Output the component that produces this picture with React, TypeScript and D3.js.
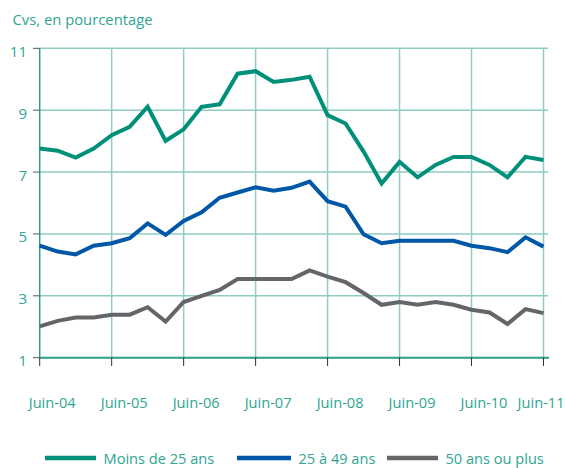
import React from "react";
import * as d3 from "d3";

const xLabels = ["Juin-04", "Juin-05", "Juin-06", "Juin-07", "Juin-08", "Juin-09", "Juin-10", "Juin-11"];
const yTicks = [1, 3, 5, 7, 9, 11];

const moins25 = [7.76, 7.69, 7.47, 7.76, 8.19, 8.46, 9.11, 8.01, 8.38, 9.11, 9.19, 10.18, 10.26, 9.91, 9.98, 10.08, 8.84, 8.57, 7.66, 6.63, 7.33, 6.83, 7.23, 7.49, 7.49, 7.23, 6.83, 7.49, 7.39];
const de25a49 = [4.62, 4.43, 4.34, 4.62, 4.7, 4.86, 5.34, 4.97, 5.42, 5.7, 6.17, 6.34, 6.51, 6.4, 6.49, 6.69, 6.06, 5.88, 4.99, 4.7, 4.78, 4.78, 4.78, 4.78, 4.62, 4.54, 4.41, 4.89, 4.59];
const plus50 = [2.01, 2.19, 2.3, 2.3, 2.39, 2.39, 2.63, 2.17, 2.8, 3.0, 3.19, 3.54, 3.54, 3.54, 3.54, 3.82, 3.62, 3.44, 3.09, 2.71, 2.8, 2.71, 2.8, 2.71, 2.55, 2.46, 2.09, 2.57, 2.44];

const seriesNames = ["Moins de 25 ans", "25 à 49 ans", "50 ans ou plus"];
const seriesColors = ["#00907a", "#0057a8", "#646569"];

const W = 565;
const H = 468;
const FONT = "'Open Sans', 'DejaVu Sans', sans-serif";
const TEXT = "#2fa592";
const GRID = "#8fcdc3";
const AXIS = "#2a9d8c";

export default function App() {
  const x = d3.scaleLinear().domain([0, 28]).range([39.7, 543.5]);
  const y = d3.scaleLinear().domain([1, 11]).range([357.7, 48.3]);
  const line = d3
    .line<number>()
    .x((_, i) => x(i))
    .y((d) => y(d));
  const all = [moins25, de25a49, plus50];
  const legendX = [45, 237, 387];
  const legendW = [51, 54, 51];

  return (
    <svg width={W} height={H} style={{ position: "absolute", left: 0, top: 0 }}>
      <rect width={W} height={H} fill="#fff" />
      <text x={12.5} y={25} fontFamily={FONT} fontSize={14.8} fill={TEXT}>
        Cvs, en pourcentage
      </text>
      {/* horizontal grid */}
      {yTicks.slice(1).map((t) => (
        <line key={"h" + t} x1={x(0)} x2={548} y1={y(t)} y2={y(t)} stroke={GRID} strokeWidth={1.5} />
      ))}
      {/* vertical grid */}
      {xLabels.slice(1).map((l, i) => (
        <line key={"v" + l} x1={x((i + 1) * 4)} x2={x((i + 1) * 4)} y1={y(11)} y2={y(1)} stroke={GRID} strokeWidth={1.5} />
      ))}
      {/* y axis */}
      <line x1={x(0)} x2={x(0)} y1={y(11)} y2={y(1)} stroke={AXIS} strokeWidth={1.5} />
      {yTicks.map((t) => (
        <g key={"yt" + t}>
          <line x1={33} x2={x(0)} y1={y(t)} y2={y(t)} stroke="#555" strokeWidth={1} />
          <text x={27} y={y(t) + 4.5} textAnchor="end" dominantBaseline="middle" fontFamily={FONT} fontSize={15} fill={TEXT}>
            {t}
          </text>
        </g>
      ))}
      {/* x axis */}
      <line x1={x(0)} x2={549} y1={y(1)} y2={y(1)} stroke={AXIS} strokeWidth={2} />
      {xLabels.map((l, i) => {
        const tx = x(i * 4);
        const last = i === xLabels.length - 1;
        return (
          <g key={"xt" + l}>
            <line x1={tx} x2={tx} y1={y(1)} y2={366} stroke="#333" strokeWidth={1} />
            <text
              x={last ? 564.5 : tx + 12.5}
              y={407.5}
              textAnchor={last ? "end" : "middle"}
              fontFamily={FONT}
              fontSize={14.6}
              fill={TEXT}
            >
              {l}
            </text>
          </g>
        );
      })}
      {/* series */}
      {all.map((s, i) => (
        <path key={"s" + i} d={line(s) || ""} fill="none" stroke={seriesColors[i]} strokeWidth={4} strokeLinejoin="miter" />
      ))}
      {/* legend */}
      {seriesNames.map((n, i) => (
        <g key={"lg" + i}>
          <line x1={legendX[i]} x2={legendX[i] + legendW[i]} y1={458} y2={458} stroke={seriesColors[i]} strokeWidth={4.5} />
          <text x={legendX[i] + legendW[i] + 7.5} y={464.3} fontFamily={FONT} fontSize={14.6} fill={TEXT}>
            {n}
          </text>
        </g>
      ))}
    </svg>
  );
}
